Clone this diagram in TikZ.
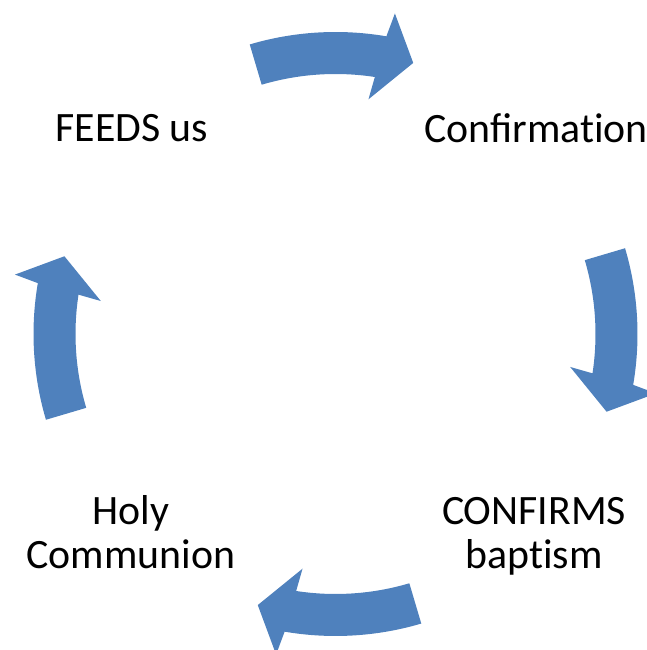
\documentclass[tikz,border=0pt]{standalone}
\usepackage{fontspec}
\setmainfont{Carlito}
\definecolor{accentblue}{HTML}{4F81BD}
\tikzset{
  cyclearrow/.style={fill=accentblue, draw=none},
  label/.style={anchor=base, inner sep=0pt, font=\fontsize{41.8}{46}\selectfont, text=black}
}
\begin{document}
\begin{tikzpicture}[x=1pt,y=1pt]
\useasboundingbox (0,0) rectangle (647,650);
\coordinate (ctr) at (335.5,316);
\foreach \r in {0,-90,-180,-270}{
  \begin{scope}[shift={(ctr)}, rotate=\r]
    \fill[cyclearrow] (106.5:302) arc[start angle=106.5, end angle=80.3, radius=302]
      -- (79.5:326) -- (74:282) -- (82:237) -- (81.3:260)
      arc[start angle=81.3, end angle=106.5, radius=260] -- cycle;
  \end{scope}
}
\node[label] (feeds) at (132,508.5) {FEEDS us};
\node[label] (confirmation) at (536,507.5) {Confirmat\kern0pt ion};
\node[label] (confirms) at (534,125) {CONFIRMS};
\node[label] (baptism) at (534,81) {bapt\kern0pt ism};
\node[label] (holy) at (131,125) {Holy};
\node[label] (communion) at (131,81) {Communion};
\end{tikzpicture}
\end{document}
